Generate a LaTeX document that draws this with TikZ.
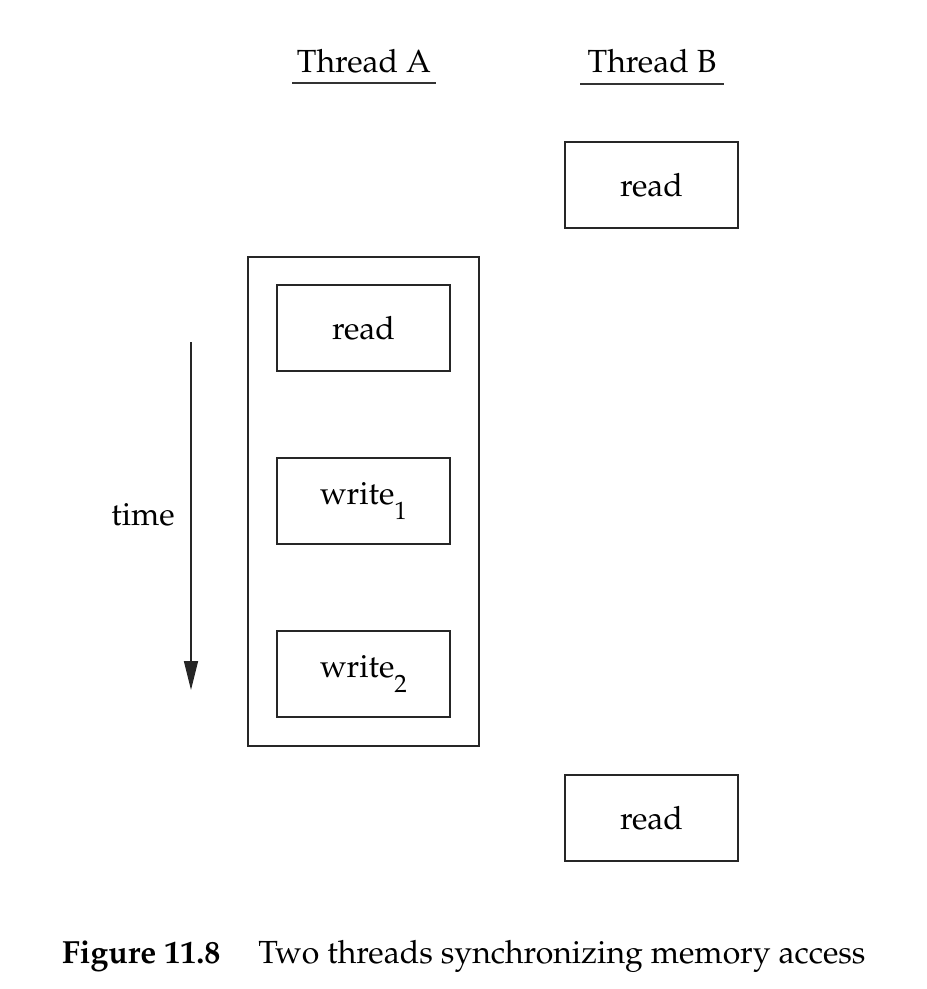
\documentclass[tikz,border=0pt]{standalone}
\usepackage[T1]{fontenc}
\usepackage{mathpazo}
\usetikzlibrary{arrows.meta}
\newcommand{\mysub}[1]{\raisebox{-0.45em}{\fontsize{25}{25}\selectfont #1}}
\begin{document}
\begin{tikzpicture}[x=1pt,y=-1pt,
  box/.style={draw=black!85,line width=1.4pt,minimum width=173pt,minimum height=86pt,inner sep=0pt},
  lbl/.style={font=\fontsize{32}{38}\selectfont,inner sep=0pt},
  uline/.style={draw=black!80,line width=1.4pt}]
\useasboundingbox (0,0) rectangle (927,989);
% headers
\node[lbl,anchor=base] (ta) at (364,72) {Thread A};
\node[lbl,anchor=base] (tb) at (652,72) {Thread B};
\coordinate (ta1) at (292,83); \coordinate (ta2) at (436,83);
\coordinate (tb1) at (580,84); \coordinate (tb2) at (724,84);
\draw[uline] (ta1) -- (ta2);
\draw[uline] (tb1) -- (tb2);
% outer box
\node[draw=black!85,line width=1.4pt,minimum width=231pt,minimum height=489pt,inner sep=0pt] (outer) at (363.5,501.5) {};
% boxes
\node[box,lbl] (br1) at (651.5,185) {read};
\node[box,lbl] (ar) at (363.5,328) {read};
\node[box,lbl] (aw1) at (363.5,501) {write\mysub{1}};
\node[box,lbl] (aw2) at (363.5,674) {write\mysub{2}};
\node[box,lbl] (br2) at (651.5,818) {read};
% time arrow
\coordinate (t0) at (191,342);
\coordinate (t1) at (191,690);
\draw[draw=black!85,line width=1.4pt,-{Triangle[width=14pt,length=29pt]}] (t0) -- (t1);
\node[lbl] (time) at (143,515) {time};
% caption
\node[lbl,anchor=base west] (cap) at (62,963) {\textbf{Figure 11.8}\hspace{38pt}Two threads synchronizing memory access};
\end{tikzpicture}
\end{document}
